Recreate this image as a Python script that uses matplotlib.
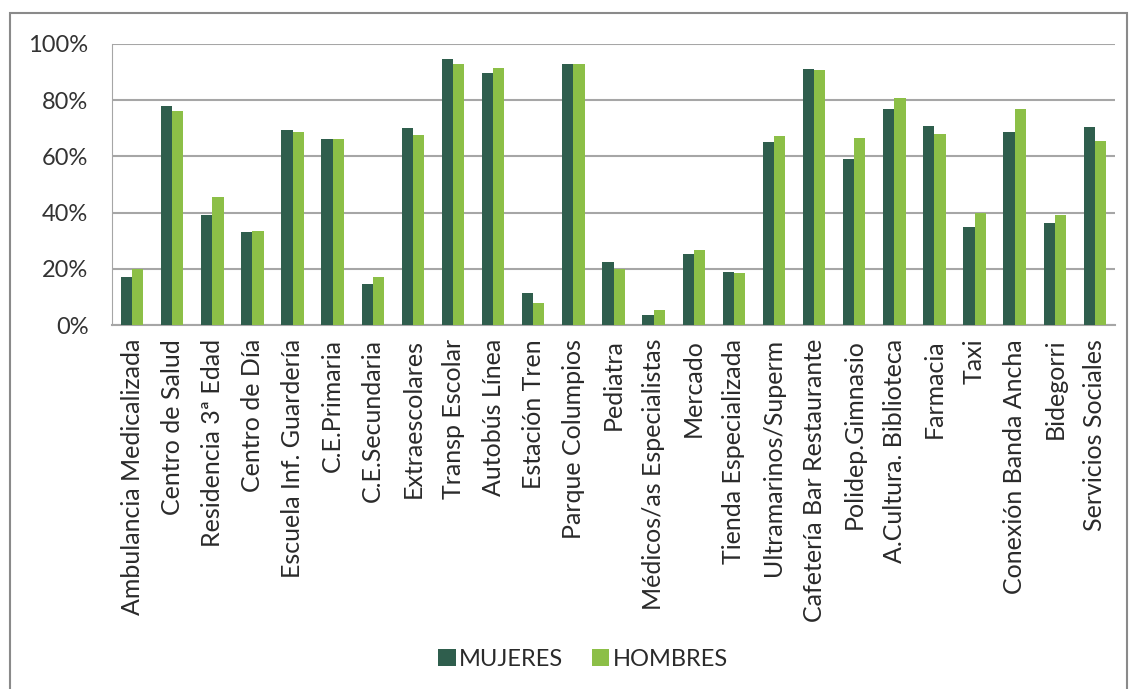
import matplotlib.pyplot as plt
import numpy as np
from matplotlib.patches import Rectangle
from matplotlib.ticker import FuncFormatter

# Service categories and percentages per group
categories = ['Ambulancia Medicalizada', 'Centro de Salud', 'Residencia 3ª Edad',
              'Centro de Día', 'Escuela Inf. Guardería', 'C.E.Primaria',
              'C.E.Secundaria', 'Extraescolares', 'Transp Escolar', 'Autobús Línea',
              'Estación Tren', 'Parque Columpios', 'Pediatra',
              'Médicos/as Especialistas', 'Mercado', 'Tienda Especializada',
              'Ultramarinos/Superm', 'Cafetería Bar Restaurante', 'Polidep.Gimnasio',
              'A.Cultura. Biblioteca', 'Farmacia', 'Taxi', 'Conexión Banda Ancha',
              'Bidegorri', 'Servicios Sociales']

mujeres = [17, 78, 39, 33, 69.5, 66.3, 14.5, 70, 94.7, 89.8, 11.3, 93, 22.3,
           3.6, 25.3, 18.9, 65, 91.1, 59, 76.8, 70.9, 35, 68.6, 36.2, 70.4]
hombres = [20, 76, 45.5, 33.4, 68.6, 66.3, 17.1, 67.6, 93, 91.6, 7.7, 93, 20,
           5.2, 26.7, 18.4, 67.3, 90.7, 66.7, 80.8, 68.1, 40, 76.8, 39.1, 65.5]

dark = '#2f5e4d'
light = '#8cbf47'
grid_col = '#a6a6a6'
FS = 17

plt.rcParams['font.family'] = ['Lato', 'DejaVu Sans']

fig = plt.figure(figsize=(11.32, 6.89), dpi=100)
ax = fig.add_axes([112 / 1132, 1 - 325 / 689, (1115 - 112) / 1132, (325 - 44) / 689])

x = np.arange(len(categories))
w = 0.28
ax.bar(x - w / 2, mujeres, w, color=dark, label='MUJERES', zorder=3)
ax.bar(x + w / 2, hombres, w, color=light, label='HOMBRES', zorder=3)

ax.set_xlim(-0.5, len(categories) - 0.5)
ax.set_ylim(0, 100)
ax.set_yticks(np.arange(0, 101, 20))
ax.yaxis.set_major_formatter(FuncFormatter(lambda v, p: '%d%%' % v))
ax.grid(axis='y', color=grid_col, linewidth=1.5, zorder=0)

ax.set_xticks(x)
ax.set_xticklabels(categories, rotation=90, fontsize=18, color='#2a2a2a')
ax.tick_params(axis='x', length=0, pad=10)
ax.tick_params(axis='y', length=0, pad=17, labelsize=FS, labelcolor='#333333')

for s in ['top', 'right']:
    ax.spines[s].set_visible(False)
ax.spines['left'].set_color(grid_col)
ax.spines['bottom'].set_color(grid_col)
ax.spines['bottom'].set_linewidth(1.5)

leg = fig.legend(loc='center', bbox_to_anchor=(583 / 1132, 1 - 659 / 689), ncol=2,
                 frameon=False, fontsize=FS, handlelength=0.75, handleheight=0.75,
                 handletextpad=0.15, columnspacing=1.2, labelcolor='#2a2a2a')

# outer chart border
fig.patches.append(Rectangle((10 / 1132, -0.01), (1127 - 10) / 1132, 1 - 13 / 689 + 0.01,
                             transform=fig.transFigure, fill=False,
                             edgecolor='#8a8a8a', linewidth=1.5))

fig.savefig('out.png', dpi=100)
